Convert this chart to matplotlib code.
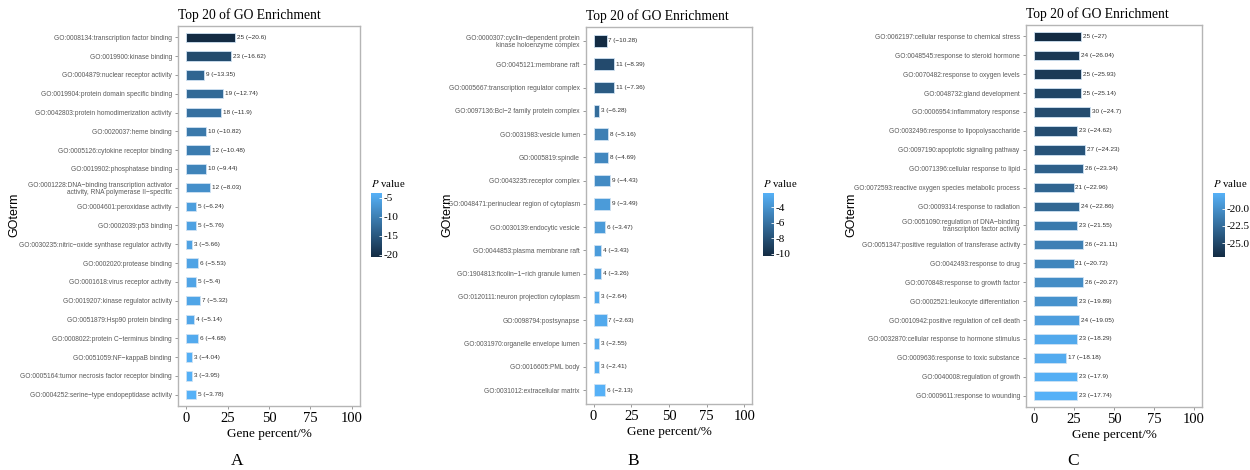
import numpy as np
import matplotlib
matplotlib.use("Agg")
import matplotlib.pyplot as plt
from matplotlib.colors import LinearSegmentedColormap

# ---- panel A: molecular function ----
terms_a = [
    "GO:0008134:transcription factor binding",
    "GO:0019900:kinase binding",
    "GO:0004879:nuclear receptor activity",
    "GO:0019904:protein domain specific binding",
    "GO:0042803:protein homodimerization activity",
    "GO:0020037:heme binding",
    "GO:0005126:cytokine receptor binding",
    "GO:0019902:phosphatase binding",
    "GO:0001228:DNA−binding transcription activator\nactivity, RNA polymerase II−specific",
    "GO:0004601:peroxidase activity",
    "GO:0002039:p53 binding",
    "GO:0030235:nitric−oxide synthase regulator activity",
    "GO:0002020:protease binding",
    "GO:0001618:virus receptor activity",
    "GO:0019207:kinase regulator activity",
    "GO:0051879:Hsp90 protein binding",
    "GO:0008022:protein C−terminus binding",
    "GO:0051059:NF−kappaB binding",
    "GO:0005164:tumor necrosis factor receptor binding",
    "GO:0004252:serine−type endopeptidase activity",
]
count_a = [25, 23, 9, 19, 18, 10, 12, 10, 12, 5, 5, 3, 6, 5, 7, 4, 6, 3, 3, 5]
pct_a = [29.4, 27.1, 10.6, 22.4, 21.2, 11.8, 14.1, 11.8, 14.1, 5.9,
         5.9, 3.5, 7.1, 5.9, 8.2, 4.7, 7.1, 3.5, 3.5, 5.9]
logp_a = [-20.6, -16.62, -13.35, -12.74, -11.9, -10.82, -10.48, -9.44, -8.03, -6.24,
          -5.76, -5.66, -5.53, -5.4, -5.32, -5.14, -4.68, -4.04, -3.95, -3.78]

# ---- panel B: cellular component ----
terms_b = [
    "GO:0000307:cyclin−dependent protein\nkinase holoenzyme complex",
    "GO:0045121:membrane raft",
    "GO:0005667:transcription regulator complex",
    "GO:0097136:Bcl−2 family protein complex",
    "GO:0031983:vesicle lumen",
    "GO:0005819:spindle",
    "GO:0043235:receptor complex",
    "GO:0048471:perinuclear region of cytoplasm",
    "GO:0030139:endocytic vesicle",
    "GO:0044853:plasma membrane raft",
    "GO:1904813:ficolin−1−rich granule lumen",
    "GO:0120111:neuron projection cytoplasm",
    "GO:0098794:postsynapse",
    "GO:0031970:organelle envelope lumen",
    "GO:0016605:PML body",
    "GO:0031012:extracellular matrix",
]
count_b = [7, 11, 11, 3, 8, 8, 9, 9, 6, 4, 4, 3, 7, 3, 3, 6]
pct_b = [8.6, 13.6, 13.6, 3.7, 9.9, 9.9, 11.1, 11.1, 7.4, 4.9, 4.9, 3.7, 8.6, 3.7, 3.7, 7.4]
logp_b = [-10.28, -8.39, -7.36, -6.28, -5.16, -4.69, -4.43, -3.49, -3.47, -3.43,
          -3.26, -2.64, -2.63, -2.55, -2.41, -2.13]

# ---- panel C: biological process ----
terms_c = [
    "GO:0062197:cellular response to chemical stress",
    "GO:0048545:response to steroid hormone",
    "GO:0070482:response to oxygen levels",
    "GO:0048732:gland development",
    "GO:0006954:inflammatory response",
    "GO:0032496:response to lipopolysaccharide",
    "GO:0097190:apoptotic signaling pathway",
    "GO:0071396:cellular response to lipid",
    "GO:0072593:reactive oxygen species metabolic process",
    "GO:0009314:response to radiation",
    "GO:0051090:regulation of DNA−binding\ntranscription factor activity",
    "GO:0051347:positive regulation of transferase activity",
    "GO:0042493:response to drug",
    "GO:0070848:response to growth factor",
    "GO:0002521:leukocyte differentiation",
    "GO:0010942:positive regulation of cell death",
    "GO:0032870:cellular response to hormone stimulus",
    "GO:0009636:response to toxic substance",
    "GO:0040008:regulation of growth",
    "GO:0009611:response to wounding",
]
count_c = [25, 24, 25, 25, 30, 23, 27, 26, 21, 24, 23, 26, 21, 26, 23, 24, 23, 17, 23, 23]
pct_c = [29.4, 28.2, 29.4, 29.4, 35.3, 27.1, 31.8, 30.6, 24.7, 28.2,
         27.1, 30.6, 24.7, 30.6, 27.1, 28.2, 27.1, 20.0, 27.1, 27.1]
logp_c = [-27, -26.04, -25.93, -25.14, -24.7, -24.62, -24.23, -23.34, -22.96, -22.86,
          -21.55, -21.11, -20.72, -20.27, -19.89, -19.05, -18.29, -18.18, -17.9, -17.74]

cbar_ticks_a = [-5, -10, -15, -20]
cbar_ticks_b = [-4, -6, -8, -10]
cbar_ticks_c = [-20.0, -22.5, -25.0]

W, H = 1250, 470
cmap = LinearSegmentedColormap.from_list("gg", ["#132B43", "#56B1F7"])
SERIF = "Liberation Serif"
SANS = "Liberation Sans"


def px_box(x0, y0, x1, y1):
    return [x0 / W, 1 - y1 / H, (x1 - x0) / W, (y1 - y0) / H]


def draw_panel(fig, box, cbox, terms, counts, pct, logp, cticks, cfmt, letter, letter_x, gox):
    ax = fig.add_axes(px_box(*box))
    n = len(terms)
    y = np.arange(n)
    vmin, vmax = min(logp), max(logp)
    norm = plt.Normalize(vmin, vmax)
    colors = cmap(norm(np.array(logp)))
    ax.barh(y, pct, height=0.5, color=colors, edgecolor="#cfe2f3", linewidth=0.6)
    for yi, p, c, lp in zip(y, pct, counts, logp):
        ax.text(p + 1.2, yi, f"{c} (−{abs(lp):g})", va="center", ha="left",
                fontsize=4.6, family=SANS, color="#333333")
    ax.set_xlim(-5, 105)
    ax.set_ylim(n - 0.4, -0.6)
    ax.set_yticks(y)
    ax.set_yticklabels(terms, fontsize=4.8, family=SANS, color="#5a5a5a",
                       linespacing=0.95)
    ax.set_xticks([0, 25, 50, 75, 100])
    ax.set_xticklabels(["0", "25", "50", "75", "100"], fontsize=10.5, family=SERIF)
    ax.tick_params(axis="both", color="#888888", length=2.5, width=0.6, pad=2)
    for s in ax.spines.values():
        s.set_color("#b5b5b5")
        s.set_linewidth(1.0)
    ax.set_xlabel("Gene percent/%", fontsize=9.5, family=SERIF, labelpad=2)
    ax.set_title("Top 20 of GO Enrichment", loc="left", fontsize=9.8,
                 family=SERIF, pad=5)
    fig.text(gox / W, 1 - 215 / H, "GOterm", rotation=90, ha="center", va="center",
             fontsize=9, family=SANS)
    fig.text(letter_x / W, 1 - 461 / H, letter, ha="center", va="center",
             fontsize=12.5, family=SERIF)

    # colourbar
    cax = fig.add_axes(px_box(*cbox))
    sm = plt.cm.ScalarMappable(norm=norm, cmap=cmap)
    cb = fig.colorbar(sm, cax=cax)
    cb.outline.set_visible(False)
    cb.set_ticks(cticks)
    cb.set_ticklabels([cfmt.format(t) for t in cticks])
    cax.tick_params(direction="in", color="white", length=2.5, width=0.6,
                    labelsize=8, pad=1.5)
    for lab in cax.get_yticklabels():
        lab.set_family(SERIF)
    fig.text(cbox[0] / W, 1 - (cbox[1] - 10) / H, "$P$ value", ha="left",
             va="center", fontsize=7.8, family=SERIF, math_fontfamily="stix")
    return ax


fig = plt.figure(figsize=(W / 100, H / 100), dpi=100)
draw_panel(fig, (178, 26, 360, 406), (371, 193, 382, 257), terms_a, count_a, pct_a, logp_a,
           cbar_ticks_a, "{:g}", "A", 237, 14)
draw_panel(fig, (586, 27, 752, 404), (763, 193, 774, 256), terms_b, count_b, pct_b, logp_b,
           cbar_ticks_b, "{:g}", "B", 633, 447)
draw_panel(fig, (1026, 25, 1202, 407), (1213, 193, 1225, 257), terms_c, count_c, pct_c, logp_c,
           cbar_ticks_c, "{:.1f}", "C", 1073, 851)

fig.savefig("out.png", dpi=100)
